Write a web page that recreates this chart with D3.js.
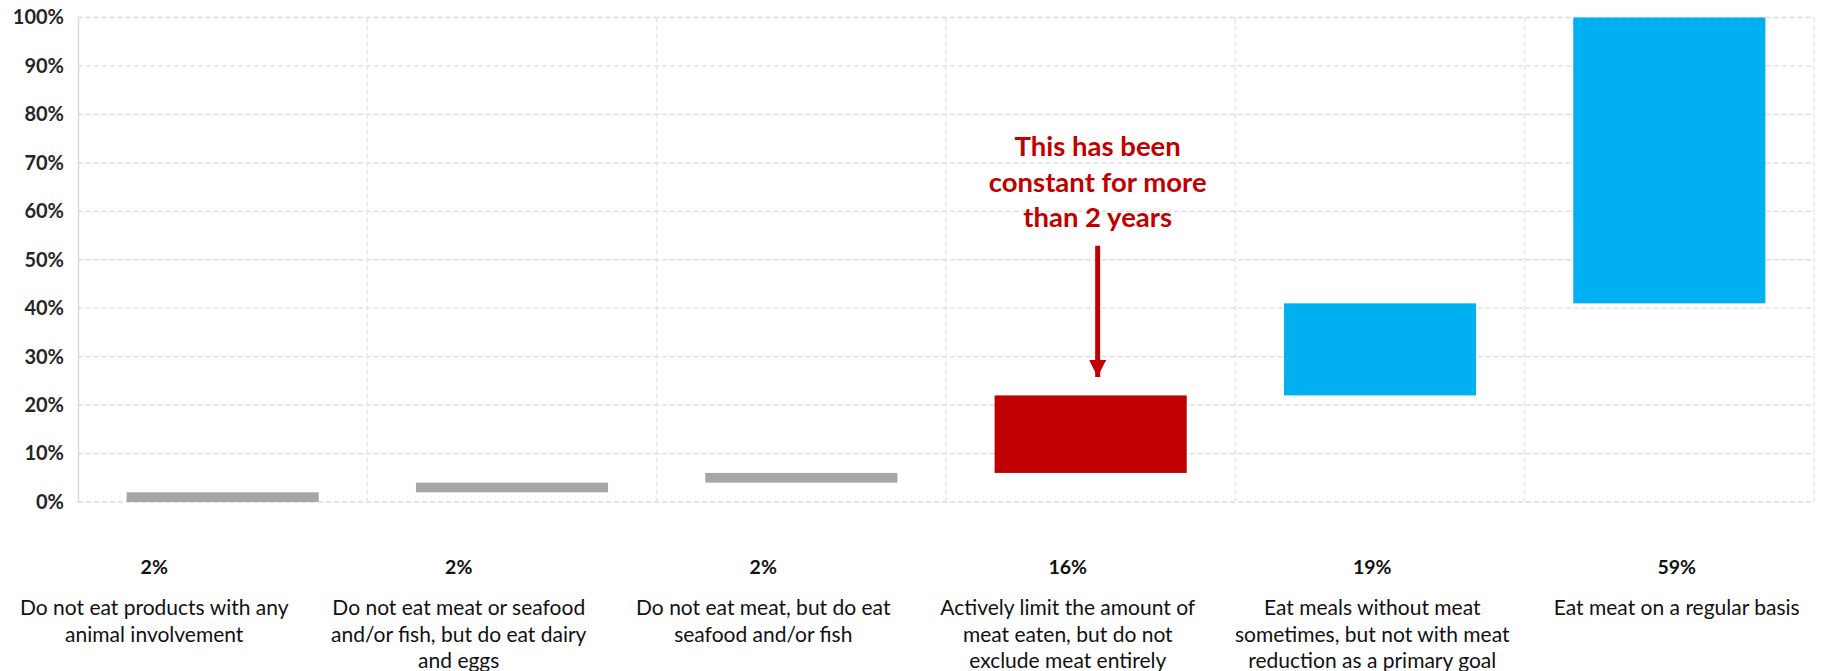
<!DOCTYPE html>
<html>
<head>
<meta charset="utf-8">
<script src="https://cdn.jsdelivr.net/npm/d3@7"></script>
<style>
  html, body { margin: 0; padding: 0; background: #fff; }
  svg { display: block; }
</style>
</head>
<body>
<script>
// Diet categories, with the label broken into the lines shown under each column
const categories = ["vegan", "vegetarian", "pescatarian", "flexitarian", "occasional", "regular"];
const categoryLines = [
  ["Do not eat products with any", "animal involvement"],
  ["Do not eat meat or seafood", "and/or fish, but do eat dairy", "and eggs"],
  ["Do not eat meat, but do eat", "seafood and/or fish"],
  ["Actively limit the amount of", "meat eaten, but do not", "exclude meat entirely"],
  ["Eat meals without meat", "sometimes, but not with meat", "reduction as a primary goal"],
  ["Eat meat on a regular basis"]
];
// Share of respondents per category (percent)
const values = [2, 2, 2, 16, 19, 59];
const barColors = ["#A6A6A6", "#A6A6A6", "#A6A6A6", "#C00000", "#00B0F0", "#00B0F0"];
const yTicks = [0, 10, 20, 30, 40, 50, 60, 70, 80, 90, 100];
const noteLines = ["This has been", "constant for more", "than 2 years"];

const W = 1822, H = 671;
const plot = { left: 78, right: 1814, top: 17.5, bottom: 502 };

const svg = d3.select("body").append("svg").attr("width", W).attr("height", H);

const x = d3.scaleBand().domain(categories)
  .range([plot.left, plot.right])
  .paddingInner(0.336).paddingOuter(0.168);
const y = d3.scaleLinear().domain([0, 100]).range([plot.bottom, plot.top]);

// Waterfall: each bar starts where the previous one ended
let running = 0;
const bars = values.map((v, i) => {
  const b = { key: categories[i], start: running, end: running + v, value: v, color: barColors[i] };
  running += v;
  return b;
});

// Horizontal dashed gridlines
svg.append("g").selectAll("line").data(yTicks).join("line")
  .attr("x1", plot.left).attr("x2", plot.right)
  .attr("y1", d => y(d)).attr("y2", d => y(d))
  .attr("stroke", "#DCDCDC").attr("stroke-width", 1.3)
  .attr("stroke-dasharray", "5,3");

// Vertical dashed gridlines between categories
const step = x.step();
const xBounds = d3.range(1, categories.length + 1).map(i => plot.left + i * step);
svg.append("g").selectAll("line").data(xBounds).join("line")
  .attr("x1", d => d).attr("x2", d => d)
  .attr("y1", plot.top).attr("y2", plot.bottom)
  .attr("stroke", "#E4E4E4").attr("stroke-width", 1.3)
  .attr("stroke-dasharray", "5,3");

// Y axis
const yAxis = d3.axisLeft(y).tickValues(yTicks).tickFormat(d => d + "%").tickSize(0).tickPadding(14);
const ya = svg.append("g").attr("transform", `translate(${plot.left},0)`).call(yAxis);
ya.select(".domain").attr("stroke", "#D9D9D9").attr("stroke-width", 1.5);
ya.selectAll("text")
  .attr("font-family", "Lato, sans-serif").attr("font-weight", "bold")
  .attr("font-size", 20).attr("fill", "#262626");

// Bars
svg.append("g").selectAll("rect").data(bars).join("rect")
  .attr("x", d => x(d.key))
  .attr("width", x.bandwidth())
  .attr("y", d => y(d.end))
  .attr("height", d => y(d.start) - y(d.end))
  .attr("fill", d => d.color);

// Value and category labels under the chart
const lx = d3.scaleBand().domain(categories).range([2, 1829]);
const lab = svg.append("g").selectAll("g").data(bars).join("g")
  .attr("transform", d => `translate(${lx(d.key) + lx.bandwidth() / 2},0)`);
lab.append("text")
  .attr("y", 566).attr("text-anchor", "middle").attr("dominant-baseline", "central")
  .attr("font-family", "Lato, sans-serif").attr("font-weight", "bold")
  .attr("font-size", 19.5).attr("fill", "#111")
  .text(d => d.value + "%");
lab.each(function (d, i) {
  d3.select(this).selectAll("text.cat").data(categoryLines[i]).join("text")
    .attr("class", "cat")
    .attr("y", (t, j) => 606.7 + j * 26.3)
    .attr("text-anchor", "middle").attr("dominant-baseline", "central")
    .attr("font-family", "Lato, sans-serif").attr("font-size", 21).attr("fill", "#111")
    .text(t => t);
});

// Annotation with arrow pointing at the highlighted bar
const hl = bars[3];
const ax = x(hl.key) + x.bandwidth() / 2 + 7;
svg.append("defs").append("marker")
  .attr("id", "head").attr("viewBox", "0 0 10 10")
  .attr("refX", 10).attr("refY", 5)
  .attr("markerUnits", "userSpaceOnUse")
  .attr("markerWidth", 17).attr("markerHeight", 17)
  .attr("orient", "auto")
  .append("path").attr("d", "M0,0 L10,5 L0,10 Z").attr("fill", "#C00000");
svg.append("line")
  .attr("x1", ax).attr("x2", ax)
  .attr("y1", 245.7).attr("y2", y(hl.end) - 18.5)
  .attr("stroke", "#C00000").attr("stroke-width", 5)
  .attr("marker-end", "url(#head)");
svg.append("g").selectAll("text").data(noteLines).join("text")
  .attr("x", ax).attr("y", (t, j) => 145.7 + j * 35.5)
  .attr("text-anchor", "middle").attr("dominant-baseline", "central")
  .attr("font-family", "Lato, sans-serif").attr("font-weight", "bold")
  .attr("font-size", 27.5).attr("fill", "#C00000")
  .text(t => t);
</script>
</body>
</html>
